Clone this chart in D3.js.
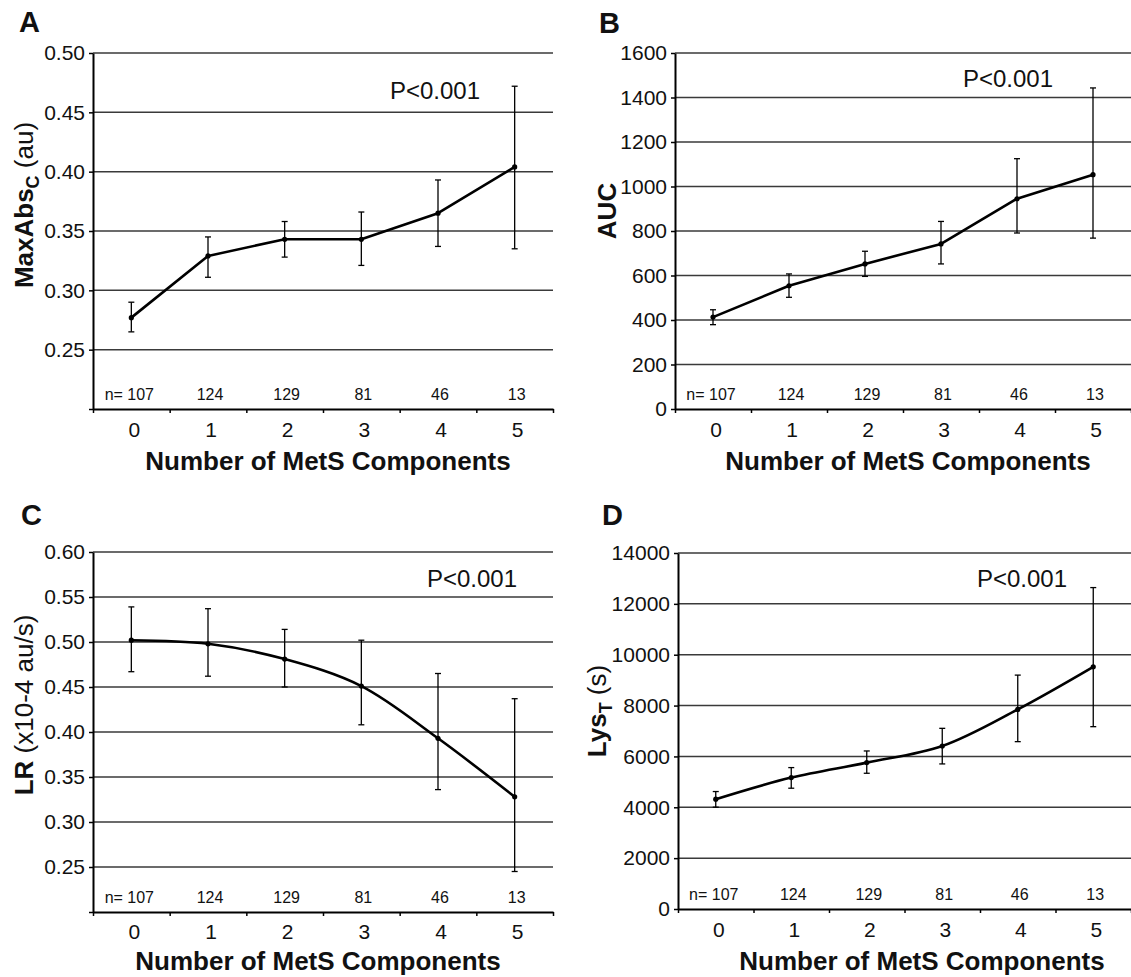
<!DOCTYPE html>
<html><head><meta charset="utf-8">
<script src="https://cdn.jsdelivr.net/npm/d3@7"></script>
<style>
body{margin:0;background:#fff}
svg{display:block}
text{font-family:"Liberation Sans",Arial,Helvetica,sans-serif;fill:#111}
</style>
</head><body>
<svg id="chart" width="1131" height="977"></svg>
<script>
// ---------- data ----------
const categories = [0, 1, 2, 3, 4, 5];
const nCounts = [107, 124, 129, 81, 46, 13];

const maxAbsMean = [0.277, 0.329, 0.343, 0.343, 0.365, 0.404];
const maxAbsLow  = [0.265, 0.311, 0.328, 0.321, 0.337, 0.335];
const maxAbsHigh = [0.290, 0.345, 0.358, 0.366, 0.393, 0.472];
const maxAbsTicks = [0.20, 0.25, 0.30, 0.35, 0.40, 0.45, 0.50];

const aucMean = [413, 554, 652, 742, 945, 1053];
const aucLow  = [379, 502, 596, 652, 791, 768];
const aucHigh = [446, 607, 709, 843, 1125, 1443];
const aucTicks = [0, 200, 400, 600, 800, 1000, 1200, 1400, 1600];

const lrMean = [0.502, 0.498, 0.481, 0.451, 0.393, 0.328];
const lrLow  = [0.467, 0.462, 0.450, 0.408, 0.336, 0.245];
const lrHigh = [0.539, 0.537, 0.514, 0.502, 0.465, 0.437];
const lrTicks = [0.20, 0.25, 0.30, 0.35, 0.40, 0.45, 0.50, 0.55, 0.60];

const lysMean = [4318, 5168, 5757, 6411, 7850, 9525];
const lysLow  = [4004, 4750, 5338, 5705, 6581, 7170];
const lysHigh = [4619, 5561, 6215, 7105, 9198, 12640];
const lysTicks = [0, 2000, 4000, 6000, 8000, 10000, 12000, 14000];

const xTitle = "Number of MetS Components";
const pText = "P<0.001";

// ---------- drawing ----------
const svg = d3.select("#chart");

function panel(o) {
  const g = svg.append("g");
  const x = d3.scaleBand().domain(categories).range([o.left, o.right]).padding(0);
  const xb = d3.scaleLinear().domain([0, categories.length]).range([o.left, o.right]);
  const y = d3.scaleLinear().domain([o.ticks[0], o.ticks[o.ticks.length - 1]]).range([o.bottom, o.top]);

  // gridlines
  g.append("g").selectAll("line").data(o.ticks.slice(1)).join("line")
    .attr("x1", o.left).attr("x2", o.right)
    .attr("y1", d => y(d)).attr("y2", d => y(d))
    .attr("stroke", "#3a3a3a").attr("stroke-width", 1.5);

  // y axis
  const ya = d3.axisLeft(y).tickValues(o.ticks).tickSize(4).tickSizeOuter(0).tickPadding(4)
    .tickFormat(d => (o.hideFirst && d === o.ticks[0]) ? "" : o.fmt(d));
  const yg = g.append("g").attr("transform", `translate(${o.left},0)`).call(ya);
  yg.select(".domain").attr("stroke", "#000").attr("stroke-width", 2);
  yg.selectAll(".tick line").attr("stroke", "#000").attr("stroke-width", 1.5);
  yg.selectAll(".tick text").attr("font-size", 21).attr("fill", "#111")
    .attr("font-family", '"Liberation Sans",Arial,sans-serif');

  // x axis with ticks at band boundaries
  const xa = d3.axisBottom(xb).tickValues(d3.range(categories.length + 1)).tickSize(4).tickSizeOuter(0).tickFormat("");
  const xg = g.append("g").attr("transform", `translate(0,${o.bottom})`).call(xa);
  xg.select(".domain").attr("stroke", "#000").attr("stroke-width", 2);
  xg.selectAll(".tick line").attr("stroke", "#000").attr("stroke-width", 1.5);

  // category labels
  g.append("g").selectAll("text").data(categories).join("text")
    .attr("x", d => x(d) + x.bandwidth() / 2 + 3).attr("y", o.bottom + o.catDy)
    .attr("text-anchor", "middle").attr("font-size", 21).text(d => d);

  // n labels
  g.append("g").selectAll("text").data(nCounts).join("text")
    .attr("x", (d, i) => x(categories[i]) + x.bandwidth() / 2 + (i === 0 ? -2 : 2))
    .attr("y", o.bottom - 9)
    .attr("text-anchor", "middle").attr("font-size", 16)
    .text((d, i) => i === 0 ? "n= " + d : d);

  // error bars
  const cx = i => x(categories[i]) + x.bandwidth() / 2;
  const eb = g.append("g").attr("stroke", "#000").attr("stroke-width", 1.3);
  o.mean.forEach((m, i) => {
    eb.append("line").attr("x1", cx(i)).attr("x2", cx(i)).attr("y1", y(o.low[i])).attr("y2", y(o.high[i]));
    eb.append("line").attr("x1", cx(i) - 3).attr("x2", cx(i) + 3).attr("y1", y(o.low[i])).attr("y2", y(o.low[i]));
    eb.append("line").attr("x1", cx(i) - 3).attr("x2", cx(i) + 3).attr("y1", y(o.high[i])).attr("y2", y(o.high[i]));
  });

  // mean line
  const line = d3.line().x((d, i) => cx(i)).y(d => y(d)).curve(o.curve || d3.curveLinear);
  g.append("path").datum(o.mean).attr("d", line).attr("fill", "none")
    .attr("stroke", "#000").attr("stroke-width", 2.6).attr("stroke-linejoin", "round");
  g.append("g").selectAll("circle").data(o.mean).join("circle")
    .attr("cx", (d, i) => cx(i)).attr("cy", d => y(d)).attr("r", 2.6).attr("fill", "#000");

  // P value
  g.append("text").attr("x", o.pX).attr("y", o.pY).attr("text-anchor", "middle")
    .attr("font-size", 24).text(pText);

  // x title
  g.append("text").attr("x", o.xtX).attr("y", o.xtY).attr("text-anchor", "middle")
    .attr("font-size", 26).attr("font-weight", "bold").text(xTitle);

  // y title
  const yt = g.append("text").attr("transform", `translate(${o.ytX},${o.ytY}) rotate(-90)`)
    .attr("text-anchor", "middle").attr("font-size", 26);
  o.yTitle.forEach(p => {
    const t = yt.append("tspan").text(p.t).attr("font-weight", p.b ? "bold" : "normal");
    if (p.sub) t.attr("font-size", 18).attr("dy", 6);
    if (p.after) t.attr("dy", -6);
  });

  // panel letter
  svg.append("text").attr("x", o.lx).attr("y", o.ly).attr("font-size", 29)
    .attr("font-weight", "bold").text(o.letter);
}

const f2 = d3.format(".2f");
const fi = d3.format("d");

panel({letter: "A", lx: 19, ly: 32,
  left: 93, right: 553, top: 53, bottom: 409,
  ticks: maxAbsTicks, fmt: f2, hideFirst: true,
  mean: maxAbsMean, low: maxAbsLow, high: maxAbsHigh,
  pX: 435, pY: 99, xtX: 328, xtY: 470, catDy: 28,
  ytX: 33, ytY: 205,
  yTitle: [{t: "MaxAbs", b: true}, {t: "C", b: true, sub: true}, {t: " (au)", after: true}]});

panel({letter: "B", lx: 599, ly: 33,
  left: 675, right: 1131, top: 53, bottom: 409,
  ticks: aucTicks, fmt: fi, hideFirst: false,
  mean: aucMean, low: aucLow, high: aucHigh,
  pX: 1008, pY: 87, xtX: 908, xtY: 470, catDy: 28,
  ytX: 616, ytY: 211,
  yTitle: [{t: "AUC", b: true}]});

panel({letter: "C", lx: 21, ly: 525,
  left: 93, right: 553, top: 552, bottom: 912,
  ticks: lrTicks, fmt: f2, hideFirst: true,
  mean: lrMean, low: lrLow, high: lrHigh, curve: d3.curveCatmullRom,
  pX: 472, pY: 587, xtX: 318, xtY: 970, catDy: 27,
  ytX: 33, ytY: 705,
  yTitle: [{t: "LR", b: true}, {t: " (x10-4 au/s)"}]});

panel({letter: "D", lx: 602, ly: 525,
  left: 678, right: 1131, top: 553, bottom: 909,
  ticks: lysTicks, fmt: fi, hideFirst: false,
  mean: lysMean, low: lysLow, high: lysHigh, curve: d3.curveCatmullRom,
  pX: 1022, pY: 587, xtX: 922, xtY: 970, catDy: 28,
  ytX: 606, ytY: 711,
  yTitle: [{t: "Lys", b: true}, {t: "T", b: true, sub: true}, {t: " (s)", after: true}]});
</script>
</body></html>
